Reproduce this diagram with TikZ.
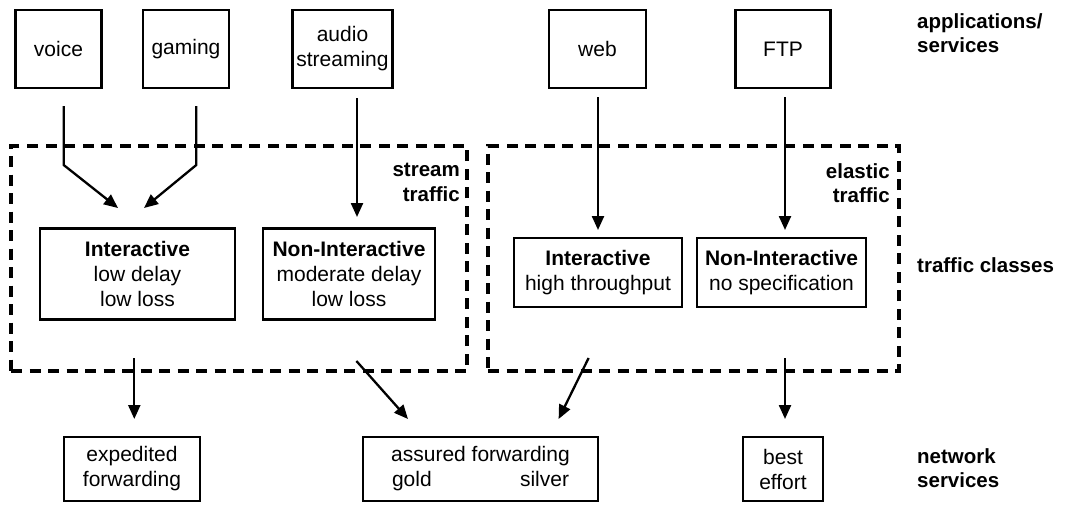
\documentclass[tikz,border=0pt]{standalone}
\usepackage{fontspec}
\setmainfont{Liberation Sans}
\usetikzlibrary{arrows.meta}
\begin{document}
\begin{tikzpicture}[x=1pt,y=-1pt,
  txt/.style={font=\fontsize{21}{25}\selectfont},
  box/.style={txt,draw,line width=2.5pt,inner sep=0pt,align=center},
  lbl/.style={inner sep=0pt,font=\fontsize{20.5}{24.5}\selectfont\bfseries},
  zone/.style={draw,line width=3.2pt,dash pattern=on 11pt off 7.5pt,inner sep=0pt},
  flow/.style={line width=2.3pt,-{Triangle[length=14pt,width=12pt]}}]
\useasboundingbox (0,0) rectangle (1067,504);

% applications / services
\node[box,minimum width=86pt,minimum height=78pt] (voice) at (58.5,49) {voice};
\node[box,minimum width=86pt,minimum height=78pt] (gaming) at (186,49) {gaming};
\node[box,minimum width=100pt,minimum height=78pt] (audio) at (342.5,49) {audio\\streaming};
\node[box,minimum width=97pt,minimum height=78pt] (web) at (597.5,49) {web};
\node[box,minimum width=95pt,minimum height=78pt] (ftp) at (783,49) {FTP};

% traffic groups
\node[zone,minimum width=456pt,minimum height=225pt] (stream) at (239,258.5) {};
\node[zone,minimum width=411pt,minimum height=225pt] (elastic) at (693.5,258.5) {};
\node[lbl,align=right,anchor=north east] (streamlbl) at (460,163) {stream\\traffic};
\node[lbl,align=right,anchor=north east] (elasticlbl) at (890,163) {elastic\\traffic};

% traffic classes
\node[box,minimum width=195pt,minimum height=91pt] (sint) at (137.5,274) {\textbf{Interactive}\\low delay\\low loss};
\node[box,minimum width=172pt,minimum height=91pt] (snon) at (349,274) {\textbf{Non-Interactive}\\moderate delay\\low loss};
\node[box,minimum width=168pt,minimum height=69pt] (eint) at (598,272.5) {\textbf{Interactive}\\high throughput};
\node[box,minimum width=169pt,minimum height=69pt] (enon) at (781.5,272.5) {\textbf{Non-Interactive}\\no specification};

% network services
\node[box,minimum width=136pt,minimum height=64pt] (ef) at (132,469) {expedited\\forwarding};
\node[box,minimum width=235pt,minimum height=64pt] (af) at (480.5,469) {assured forwarding\\\makebox[177pt]{gold\hfill silver}};
\node[box,minimum width=80pt,minimum height=64pt] (be) at (783,469) {best\\effort};

% row labels
\node[lbl,align=left,anchor=north west] (applbl) at (917,13) {applications/\\services};
\node[lbl,anchor=west] (tclbl) at (917,265) {traffic classes};
\node[lbl,align=left,anchor=north west] (netlbl) at (917,448) {network\\services};

% connector end points
\coordinate (v0) at (63.7,106);  \coordinate (v1) at (63.7,165);  \coordinate (v2) at (118,208);
\coordinate (g0) at (196.3,106); \coordinate (g1) at (196.3,165); \coordinate (g2) at (144,208);
\coordinate (a0) at (357,98);    \coordinate (a1) at (357,217);
\coordinate (w0) at (598,97);    \coordinate (w1) at (598,230);
\coordinate (f0) at (785,97);    \coordinate (f1) at (785,230);
\coordinate (x0) at (134.3,358); \coordinate (x1) at (134.3,419);
\coordinate (s0) at (356.4,361); \coordinate (s1) at (408,419);
\coordinate (e0) at (588.6,358); \coordinate (e1) at (558.6,419);
\coordinate (b0) at (785,358);   \coordinate (b1) at (785,419);

\draw[flow] (v0) -- (v1) -- (v2);
\draw[flow] (g0) -- (g1) -- (g2);
\draw[flow] (a0) -- (a1);
\draw[flow] (w0) -- (w1);
\draw[flow] (f0) -- (f1);
\draw[flow] (x0) -- (x1);
\draw[flow] (s0) -- (s1);
\draw[flow] (e0) -- (e1);
\draw[flow] (b0) -- (b1);
\end{tikzpicture}
\end{document}
